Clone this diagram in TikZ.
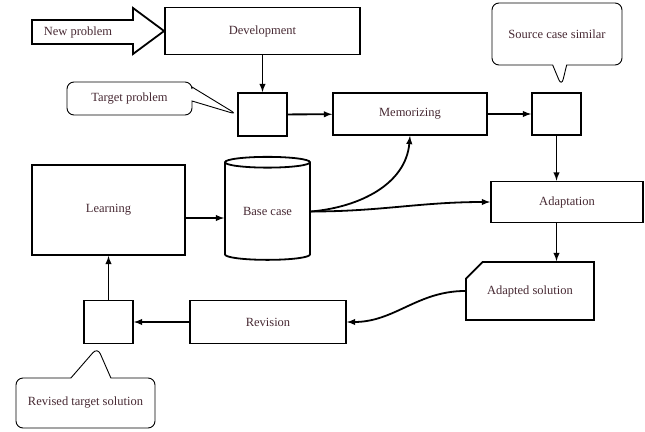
\documentclass[tikz,border=0pt]{standalone}
\usepackage{fontspec}
\setmainfont{Liberation Serif}
\usetikzlibrary{shapes.geometric,shapes.callouts,shapes.misc}
\definecolor{txt}{RGB}{70,40,50}
\begin{document}
\begin{tikzpicture}[x=1pt,y=-1pt,>=latex,font=\fontsize{12.5}{14}\selectfont,text=txt,
  box/.style={draw,line width=1.8pt,inner sep=0pt},
  sq/.style={box,minimum width=49pt,minimum height=43pt},
  talk/.style={rectangle callout,draw,line width=0.9pt,rounded corners=7pt,inner sep=0pt,callout pointer width=14pt},
  flow/.style={->,line width=1.8pt}]
\useasboundingbox (0,0) rectangle (645,431);
\node[box,minimum width=195pt,minimum height=47pt] (dev) at (262.5,31) {Development};
\node[sq] (tgt) at (262.5,114.5) {};
\node[box,minimum width=154pt,minimum height=42pt] (mem) at (410,114) {Memorizing};
\node[sq,minimum height=42pt] (src) at (556.5,114) {};
\node[box,minimum width=152pt,minimum height=41pt] (adapt) at (567,202) {Adaptation};
\node[box,chamfered rectangle,chamfered rectangle corners=north west,chamfered rectangle xsep=24pt,chamfered rectangle ysep=11pt,minimum width=128pt,minimum height=58pt] (adsol) at (530,291) {Adapted solution};
\node[box,minimum width=156pt,minimum height=43pt] (rev) at (268,322) {Revision};
\node[sq] (rts) at (108.5,322) {};
\node[box,minimum width=153pt,minimum height=90pt] (learn) at (108.5,210) {Learning};
\node[box,cylinder,shape border rotate=90,aspect=0.22,minimum width=85pt,minimum height=103pt] (base) at (267.5,211.5) {Base case};
% callouts
\node[talk,minimum width=125pt,minimum height=33pt,callout absolute pointer={(tgt.west)}] (tpcall) at (129.5,98.5) {Target problem};
\node[talk,minimum width=130pt,minimum height=62pt,callout absolute pointer={([xshift=5pt,yshift=6pt]src.north)}] (sccall) at (557,34) {Source case similar};
\node[talk,minimum width=139pt,minimum height=50pt,callout pointer width=40pt,callout absolute pointer={([xshift=-11pt,yshift=-3pt]rts.south)}] (rtcall) at (85.5,403) {Revised target solution};
% input arrow
\draw[line width=1.8pt] (32,20) -- (133,20) -- (133,8) -- (dev.west) -- (133,54) -- (133,44) -- (32,44) -- cycle;
\node (newp) at (78,32) {New problem};
% flow
\draw[flow] (dev) -- (tgt);
\draw[flow] (tgt) -- (mem);
\draw[flow] (mem) -- (src);
\draw[flow] (src) -- (src |- adapt.north);
\draw[flow] (src |- adapt.south) -- (src |- adsol.north);
\draw[flow] (adsol.west) to[out=180,in=0] (rev.east);
\draw[flow] (rev) -- (rts);
\draw[flow] (rts) -- (learn);
\draw[flow] ([yshift=-8pt]learn.east) -- ([yshift=-8pt]learn.east -| base.west);
\draw[flow] (base.east) to[out=5,in=-95] (mem.south);
\draw[flow] (base.east) to[out=0,in=180] (adapt.west);
\end{tikzpicture}
\end{document}
